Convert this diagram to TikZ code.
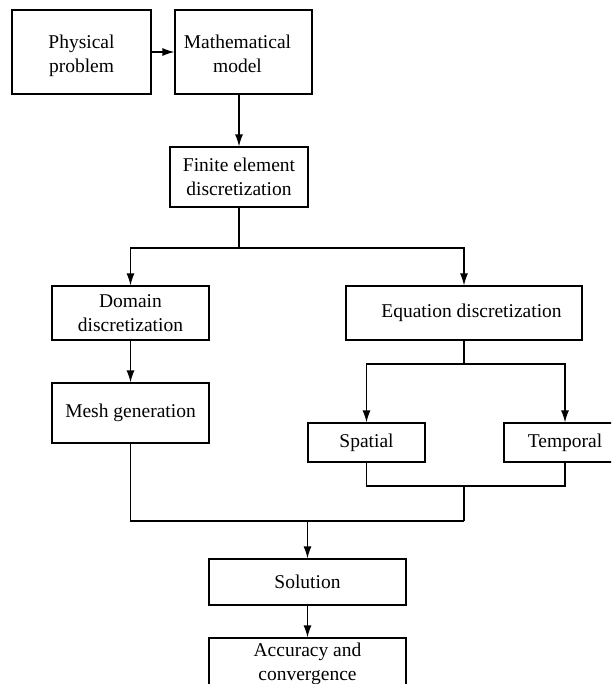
\documentclass[tikz,border=0pt]{standalone}
\usepackage{fontspec}
\setmainfont{Liberation Serif}
\usetikzlibrary{arrows.meta,calc}
\newcommand{\lowtwo}[2]{\raisebox{-4pt}[\height][\depth]{\begin{tabular}{@{}c@{}}#1\\#2\end{tabular}}}
\begin{document}
\begin{tikzpicture}[x=1pt,y=-1pt,
  box/.style={draw,line width=1.2pt,inner sep=0pt,align=center,
    font=\fontsize{19.5}{23.5}\selectfont},
  conn/.style={line width=1.3pt},
  arr/.style={conn,-{Latex[length=12pt,width=8pt]}}]
\useasboundingbox (0,0) rectangle (611,684);
\clip (0,0) rectangle (611,684);
\fill[white] (0,0) rectangle (611,684);
% boxes
\node[box,minimum width=139pt,minimum height=84pt] (phys) at (81.5,52) {\lowtwo{Physical}{problem}};
\node[box,minimum width=137pt,minimum height=84pt] (math) at (243.5,52) {\lowtwo{Mathematical}{model}\hspace*{12pt}};
\node[box,minimum width=138pt,minimum height=60pt] (fe) at (239,177) {Finite element\\discretization};
\node[box,minimum width=157pt,minimum height=54pt] (dom) at (130.5,313) {Domain\\discretization};
\node[box,minimum width=236pt,minimum height=54pt] (eq) at (464,313) {\hspace*{15pt}Equation discretization};
\node[box,minimum width=157pt,minimum height=60pt] (mesh) at (130.5,413) {Mesh generation};
\node[box,minimum width=117pt,minimum height=39pt] (spat) at (366.5,442.5) {Spatial};
\node[box,minimum width=122pt,minimum height=39pt] (temp) at (565,442.5) {Temporal};
\node[box,minimum width=197pt,minimum height=46pt] (sol) at (307.5,582) {Solution};
\node[box,minimum width=197pt,minimum height=52pt] (acc) at (307.5,664) {Accuracy and\\convergence};
% junction points
\coordinate (s1) at (239,248);
\coordinate (s2) at (464,364);
\coordinate (m2) at (464,486);
\coordinate (j) at (464,521);
% connectors
\draw[arr] (phys.east) -- (math.west);
\draw[arr] (fe.north |- math.south) -- (fe.north);
\draw[conn] (fe.south) -- (s1);
\draw[arr] (s1) -| (dom.north);
\draw[arr] (s1) -| (eq.north);
\draw[arr] (dom.south) -- (mesh.north);
\draw[conn] (eq.south) -- (s2);
\draw[arr] (s2) -| (spat.north);
\draw[arr] (s2) -| (temp.north);
\draw[conn] (spat.south) |- (m2) -| (temp.south);
\draw[conn] (m2) -- (j);
\draw[conn] (mesh.south) |- (j);
\draw[arr] (sol.north |- j) -- (sol.north);
\draw[arr] (sol.south) -- (acc.north);
\end{tikzpicture}
\end{document}
